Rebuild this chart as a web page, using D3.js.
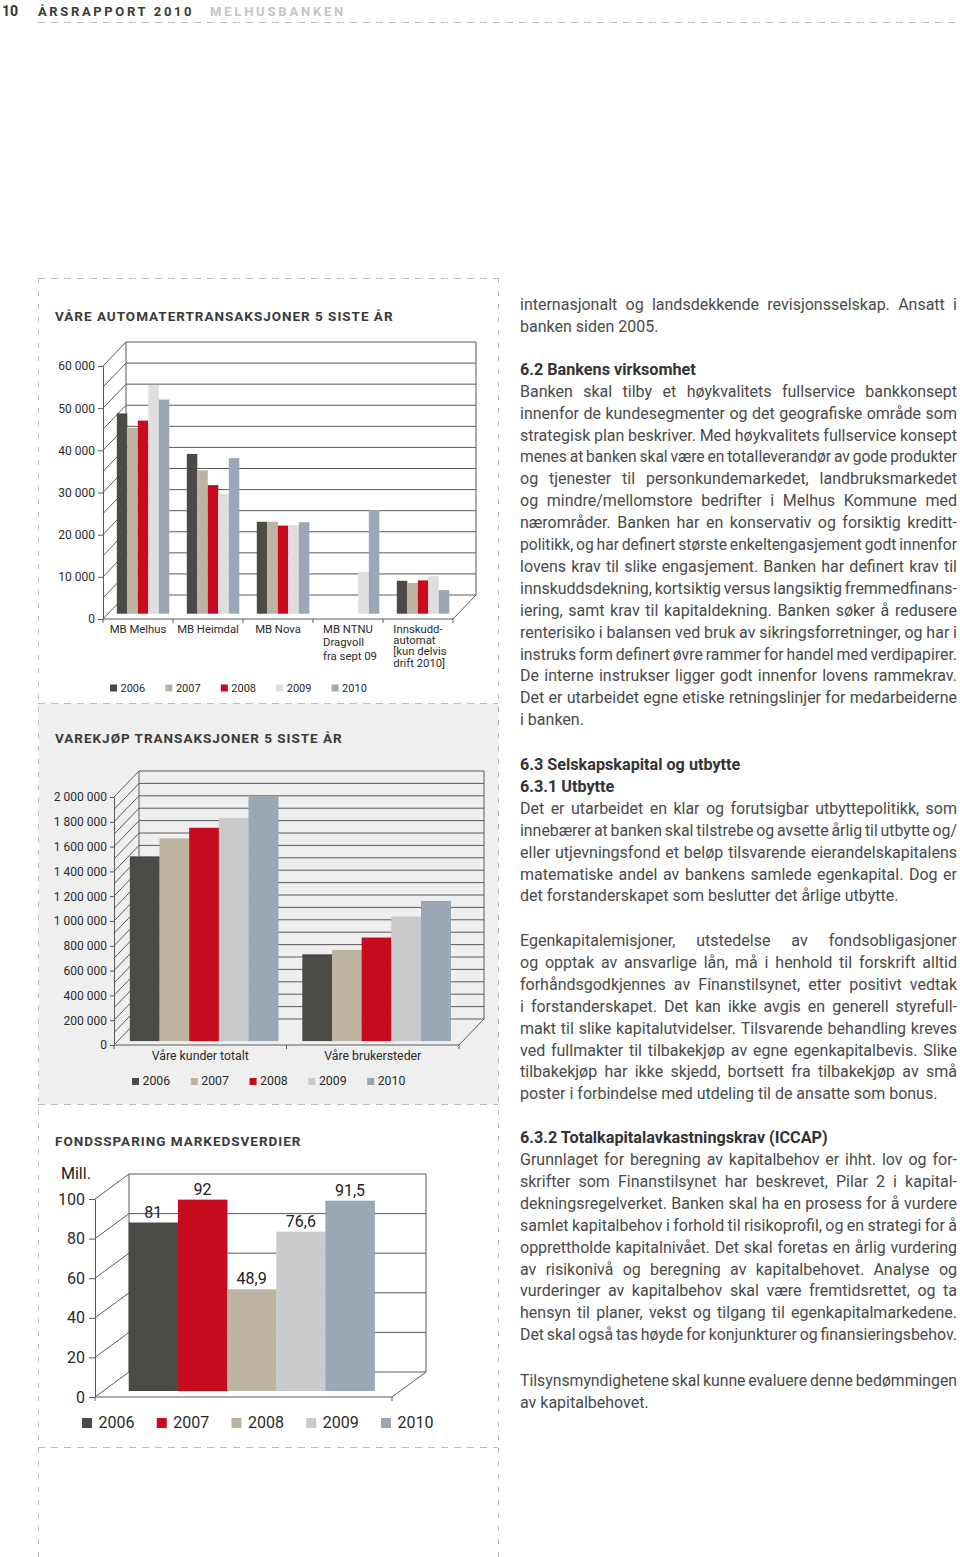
<!DOCTYPE html>
<html><head><meta charset="utf-8">
<script src="https://cdn.jsdelivr.net/npm/d3@7"></script>
<style>
body{margin:0;background:#fff;}
svg{display:block;}
</style>
</head><body>
<svg id="page" width="960" height="1557"></svg>
<script>
// ---------------- DATA ----------------
const years = ["2006", "2007", "2008", "2009", "2010"];

// Chart 1: Våre automatertransaksjoner 5 siste år
const atmCategories = ["MB Melhus", "MB Heimdal", "MB Nova", "MB NTNU", "Innskudd"];
const atmCategoryLabels = [["MB Melhus"], ["MB Heimdal"], ["MB Nova"], ["MB NTNU", "Dragvoll", "fra sept 09"], ["Innskudd-", "automat", "[kun delvis", "drift 2010]"]];
const atm2006 = [47500, 37900, 21800, null, 7800];
const atm2007 = [44100, 34000, 21800, null, 7300];
const atm2008 = [45800, 30500, 20900, null, 7900];
const atm2009 = [54200, 28400, 21000, 9900, 8900];
const atm2010 = [50800, 36900, 21700, 24600, 5600];
const atmTicks = [0, 10000, 20000, 30000, 40000, 50000, 60000];

// Chart 2: Varekjøp transaksjoner 5 siste år
const vkCategories = ["Våre kunder totalt", "Våre brukersteder"];
const vk2006 = [1490000, 700000];
const vk2007 = [1635000, 735000];
const vk2008 = [1720000, 835000];
const vk2009 = [1800000, 1005000];
const vk2010 = [1975000, 1130000];
const vkTicks = [0, 200000, 400000, 600000, 800000, 1000000, 1200000, 1400000, 1600000, 1800000, 2000000];

// Chart 3: Fondssparing markedsverdier (Mill.)
const fondValues = [81, 92, 48.9, 76.6, 91.5];
const fondLabels = ["81", "92", "48,9", "76,6", "91,5"];
const fondTicks = [0, 20, 40, 60, 80, 100];

// ---------------- STYLE ----------------
const FONT = "Roboto, 'Noto Sans', 'DejaVu Sans', sans-serif";
const C = {dark: "#4b4a46", beige: "#bdb3a1", red: "#c80a1e", light1: "#dedede", light2: "#c9cacc", blue: "#9aa7b4"};
const pal1 = [C.dark, C.beige, C.red, C.light1, C.blue];
const pal2 = [C.dark, C.beige, C.red, C.light2, C.blue];
const pal3 = [C.dark, C.red, C.beige, C.light2, C.blue];
const gridColor = "#5a5a5a";
const dashColor = "#bdbdbd";

const svg = d3.select("#page").attr("font-family", FONT);
const spaceFmt = v => d3.format(",")(v).replace(/,/g, " ");

// ---------------- PAGE FRAME ----------------
function dash(x1, y1, x2, y2, pattern) {
  svg.append("line").attr("x1", x1).attr("y1", y1).attr("x2", x2).attr("y2", y2)
    .attr("stroke", dashColor).attr("stroke-width", 1).attr("stroke-dasharray", pattern);
}
// chart 2 grey panel
svg.append("rect").attr("x", 38.5).attr("y", 703.5).attr("width", 460).attr("height", 400.5).attr("fill", "#efefef");

dash(38, 22.5, 960, 22.5, "7,6");
dash(38, 278.5, 498, 278.5, "7,6");
dash(38, 703.5, 498, 703.5, "7,6");
dash(38, 1104.5, 498, 1104.5, "7,6");
dash(38, 1447.5, 498, 1447.5, "7,6");
dash(38.5, 278, 38.5, 1557, "5,8");
dash(498.5, 278, 498.5, 1557, "5,8");

// header
svg.append("text").attr("x", 2).attr("y", 16).attr("font-size", 14).attr("font-weight", 700).attr("fill", "#333").text("10");
svg.append("text").attr("x", 38).attr("y", 16).attr("font-size", 13).attr("font-weight", 700).attr("letter-spacing", 2.64).attr("fill", "#3a3a3a").text("ÅRSRAPPORT 2010");
svg.append("text").attr("x", 210).attr("y", 16).attr("font-size", 13).attr("font-weight", 700).attr("letter-spacing", 2.8).attr("fill", "#c4c4c4").text("MELHUSBANKEN");

// chart titles
function title(x, y, str) {
  svg.append("text").attr("x", x).attr("y", y).attr("font-size", 13.5).attr("font-weight", 700)
    .attr("letter-spacing", 0.98).attr("fill", "#3a3a3a").text(str);
}
title(55, 321, "VÅRE AUTOMATERTRANSAKSJONER 5 SISTE ÅR");
title(55, 743, "VAREKJØP TRANSAKSJONER 5 SISTE ÅR");
title(55, 1146, "FONDSSPARING MARKEDSVERDIER");

// ---------------- 3D FRAME HELPER ----------------
function frame3D(g, o) {
  const {yF, x0, x1, dx, dy, grid, ticks, fmt, fontSize, tickSize, tickPad, maxV} = o;
  const ln = (a, b, c, d) => g.append("line").attr("x1", a).attr("y1", b).attr("x2", c).attr("y2", d)
    .attr("stroke", gridColor).attr("stroke-width", 1);
  g.append("g").selectAll("line").data(grid).join("line")
    .attr("x1", x0 + dx).attr("x2", x1 + dx)
    .attr("y1", d => yF(d) + dy).attr("y2", d => yF(d) + dy)
    .attr("stroke", gridColor).attr("stroke-width", 1);
  g.append("g").selectAll("line").data(grid).join("line")
    .attr("x1", x0).attr("y1", d => yF(d))
    .attr("x2", x0 + dx).attr("y2", d => yF(d) + dy)
    .attr("stroke", gridColor).attr("stroke-width", 1);
  ln(x0 + dx, yF(maxV) + dy, x0 + dx, yF(0) + dy);
  ln(x1 + dx, yF(maxV) + dy, x1 + dx, yF(0) + dy);
  ln(x0, yF(0), x1, yF(0));
  ln(x1, yF(0), x1 + dx, yF(0) + dy);
  const ax = g.append("g").attr("transform", `translate(${x0},0)`)
    .call(d3.axisLeft(yF).tickValues(ticks).tickFormat(fmt).tickSize(tickSize).tickSizeOuter(0).tickPadding(tickPad));
  ax.attr("font-family", FONT).attr("font-size", fontSize);
  ax.select(".domain").attr("stroke", gridColor);
  ax.selectAll(".tick line").attr("stroke", gridColor);
  ax.selectAll(".tick text").attr("fill", "#2a2a2a");
}

function catTicks(g, xs, y) {
  g.append("g").selectAll("line").data(xs).join("line")
    .attr("x1", d => d).attr("x2", d => d).attr("y1", y).attr("y2", y + 4)
    .attr("stroke", gridColor).attr("stroke-width", 1);
}

function legend(g, palette, x0, step, y, size, textOff, fontSize) {
  const it = g.append("g").selectAll("g").data(years).join("g")
    .attr("transform", (d, i) => `translate(${x0 + i * step},${y})`);
  it.append("rect").attr("x", 0).attr("y", -size).attr("width", size).attr("height", size)
    .attr("fill", (d, i) => palette[i]);
  it.append("text").attr("x", textOff).attr("y", 0).attr("font-size", fontSize).attr("fill", "#2a2a2a").text(d => d);
}

// ---------------- CHART 1 ----------------
{
  const g = svg.append("g");
  const yF = d3.scaleLinear().domain([0, 60000]).range([619, 366]);
  const x = d3.scaleBand().domain(atmCategories).range([103, 453]);
  const dx = 23, dy = -24, f = 0.22;
  frame3D(g, {yF, x0: 103, x1: 453, dx, dy, grid: d3.range(0, 60001, 5000), ticks: atmTicks,
    fmt: spaceFmt, fontSize: 12, tickSize: 5, tickPad: 3, maxV: 60000});
  const bw = x.bandwidth();
  const xi = d3.scaleBand().domain(years).range([bw * 0.125, bw * 0.875]);
  const series = [atm2006, atm2007, atm2008, atm2009, atm2010];
  const bars = [];
  series.forEach((s, yi) => s.forEach((v, ci) => { if (v != null) bars.push({c: atmCategories[ci], y: years[yi], yi, v}); }));
  g.append("g").selectAll("rect").data(bars).join("rect")
    .attr("x", d => x(d.c) + xi(d.y) + dx * f)
    .attr("y", d => yF(d.v) + dy * f)
    .attr("width", xi.bandwidth())
    .attr("height", d => yF(0) - yF(d.v))
    .attr("fill", d => pal1[d.yi]);
  catTicks(g, [...atmCategories.map(c => x(c)), 453], 619);
  atmCategories.forEach((c, i) => {
    const lines = atmCategoryLabels[i];
    const cx = x(c) + bw / 2;
    const t = g.append("text").attr("font-size", 11.3).attr("fill", "#2a2a2a");
    if (lines.length === 1) {
      t.attr("x", cx).attr("y", 633).attr("text-anchor", "middle").text(lines[0]);
    } else {
      const lh = lines.length === 3 ? 13.4 : 11.2;
      lines.forEach((l, k) => t.append("tspan").attr("x", 0).attr("y", 633 + k * lh).text(l));
      const w = t.node().getBBox().width;
      t.selectAll("tspan").attr("x", cx - w / 2 + 2);
    }
  });
  legend(g, pal1, 110, 55.4, 691.5, 7, 10.5, 11);
}

// ---------------- CHART 2 ----------------
{
  const g = svg.append("g");
  const yF = d3.scaleLinear().domain([0, 2000000]).range([1045, 797]);
  const x = d3.scaleBand().domain(vkCategories).range([114, 459]);
  const dx = 25, dy = -26, f = 0.15;
  frame3D(g, {yF, x0: 114, x1: 459, dx, dy, grid: d3.range(0, 2000001, 100000), ticks: vkTicks,
    fmt: spaceFmt, fontSize: 12, tickSize: 4, tickPad: 3, maxV: 2000000});
  const bw = x.bandwidth();
  const xi = d3.scaleBand().domain(years).range([bw * 0.07, bw * 0.93]);
  const series = [vk2006, vk2007, vk2008, vk2009, vk2010];
  const bars = [];
  series.forEach((s, yi) => s.forEach((v, ci) => bars.push({c: vkCategories[ci], y: years[yi], yi, v})));
  g.append("g").selectAll("rect").data(bars).join("rect")
    .attr("x", d => x(d.c) + xi(d.y) + dx * f)
    .attr("y", d => yF(d.v) + dy * f)
    .attr("width", xi.bandwidth() + 0.3)
    .attr("height", d => yF(0) - yF(d.v))
    .attr("fill", d => pal2[d.yi]);
  catTicks(g, [...vkCategories.map(c => x(c)), 459], 1045);
  g.append("g").selectAll("text").data(vkCategories).join("text")
    .attr("x", d => x(d) + bw / 2).attr("y", 1060).attr("text-anchor", "middle")
    .attr("font-size", 12.3).attr("fill", "#2a2a2a").text(d => d);
  legend(g, pal2, 132, 58.8, 1085, 7, 10.5, 12.3);
}

// ---------------- CHART 3 ----------------
{
  const g = svg.append("g");
  const yF = d3.scaleLinear().domain([0, 100]).range([1397, 1199]);
  const yBar = d3.scaleLinear().domain([0, 100]).range([1391, 1183]); // bar plane
  const x = d3.scaleBand().domain(years).range([95, 392]).paddingOuter(0.52).paddingInner(0);
  const dx = 34, dy = -25, f = 0.24;
  frame3D(g, {yF, x0: 95, x1: 392, dx, dy, grid: fondTicks, ticks: fondTicks,
    fmt: d => d, fontSize: 16, tickSize: 6, tickPad: 4, maxV: 100});
  g.append("g").selectAll("rect").data(fondValues).join("rect")
    .attr("x", (d, i) => x(years[i]) + dx * f)
    .attr("y", d => yBar(d))
    .attr("width", x.bandwidth() + 0.3)
    .attr("height", d => yBar(0) - yBar(d))
    .attr("fill", (d, i) => pal3[i]);
  g.append("g").selectAll("text").data(fondValues).join("text")
    .attr("x", (d, i) => x(years[i]) + dx * f + x.bandwidth() / 2)
    .attr("y", d => yBar(d) - 5)
    .attr("text-anchor", "middle").attr("font-size", 16).attr("fill", "#222")
    .text((d, i) => fondLabels[i]);
  catTicks(g, [95, 392], 1397);
  g.append("text").attr("x", 61).attr("y", 1179).attr("font-size", 16).attr("fill", "#222").text("Mill.");
  legend(g, pal3, 82, 74.75, 1428, 10, 16.5, 16);
}

// ---------------- TEXT COLUMN ----------------
const TX = 520, TW = 437, LH = 21.9, FS = 16;
const body = svg.append("g").attr("font-size", FS).attr("fill", "#4a4a4a");
const meas = svg.append("text").attr("font-size", FS).attr("visibility", "hidden");
function wordW(w) { return meas.text(w).node().getComputedTextLength(); }
function line(str, y, justify) {
  const t = body.append("text").attr("y", y);
  const words = str.split(" ");
  const widths = words.map(wordW);
  const total = d3.sum(widths);
  const natural = meas.text(str).node().getComputedTextLength();
  if (!justify || words.length < 2) {
    t.attr("x", TX).text(str);
    if (natural > TW) t.attr("textLength", TW).attr("lengthAdjust", "spacingAndGlyphs");
    return;
  }
  let gap = (TW - total) / (words.length - 1);
  let k = 1;
  if (gap < 2.8) { k = (TW - 2.8 * (words.length - 1)) / total; gap = 2.8; }
  let cx = TX;
  words.forEach((w, i) => {
    const ts = t.append("tspan").attr("x", cx).text(w);
    if (k < 1) ts.attr("textLength", widths[i] * k).attr("lengthAdjust", "spacingAndGlyphs");
    cx += widths[i] * k + gap;
  });
}
function para(lines, y0, lastJustify) {
  lines.forEach((l, i) => line(l, y0 + i * LH, i < lines.length - 1 || lastJustify));
}
function heading(str, y) {
  svg.append("text").attr("x", TX).attr("y", y).attr("font-size", 16.2).attr("font-weight", 700)
    .attr("fill", "#333").text(str);
}

para(["internasjonalt og landsdekkende revisjonsselskap. Ansatt i",
      "banken siden 2005."], 310, false);
heading("6.2 Bankens virksomhet", 375);
para(["Banken skal tilby et høykvalitets fullservice bankkonsept",
      "innenfor de kundesegmenter og det geografiske område som",
      "strategisk plan beskriver. Med høykvalitets fullservice konsept",
      "menes at banken skal være en totalleverandør av gode produkter",
      "og tjenester til personkundemarkedet, landbruksmarkedet",
      "og mindre/mellomstore bedrifter i Melhus Kommune med",
      "nærområder. Banken har en konservativ og forsiktig kreditt-",
      "politikk, og har definert største enkeltengasjement godt innenfor",
      "lovens krav til slike engasjement. Banken har definert krav til",
      "innskuddsdekning, kortsiktig versus langsiktig fremmedfinans-",
      "iering, samt krav til kapitaldekning. Banken søker å redusere",
      "renterisiko i balansen ved bruk av sikringsforretninger, og har i",
      "instruks form definert øvre rammer for handel med verdipapirer.",
      "De interne instrukser ligger godt innenfor lovens rammekrav.",
      "Det er utarbeidet egne etiske retningslinjer for medarbeiderne",
      "i banken."], 396.7, false);
heading("6.3 Selskapskapital og utbytte", 770);
heading("6.3.1 Utbytte", 791.8);
para(["Det er utarbeidet en klar og forutsigbar utbyttepolitikk, som",
      "innebærer at banken skal tilstrebe og avsette årlig til utbytte og/",
      "eller utjevningsfond et beløp tilsvarende eierandelskapitalens",
      "matematiske andel av bankens samlede egenkapital. Dog er",
      "det forstanderskapet som beslutter det årlige utbytte."], 813.8, false);
para(["Egenkapitalemisjoner, utstedelse av fondsobligasjoner",
      "og opptak av ansvarlige lån, må i henhold til forskrift alltid",
      "forhåndsgodkjennes av Finanstilsynet, etter positivt vedtak",
      "i forstanderskapet. Det kan ikke avgis en generell styrefull-",
      "makt til slike kapitalutvidelser. Tilsvarende behandling kreves",
      "ved fullmakter til tilbakekjøp av egne egenkapitalbevis. Slike",
      "tilbakekjøp har ikke skjedd, bortsett fra tilbakekjøp av små",
      "poster i forbindelse med utdeling til de ansatte som bonus."], 946, false);
heading("6.3.2 Totalkapitalavkastningskrav (ICCAP)", 1143.3);
para(["Grunnlaget for beregning av kapitalbehov er ihht. lov og for-",
      "skrifter som Finanstilsynet har beskrevet, Pilar 2 i kapital-",
      "dekningsregelverket. Banken skal ha en prosess for å vurdere",
      "samlet kapitalbehov i forhold til risikoprofil, og en strategi for å",
      "opprettholde kapitalnivået. Det skal foretas en årlig vurdering",
      "av risikonivå og beregning av kapitalbehovet. Analyse og",
      "vurderinger av kapitalbehov skal være fremtidsrettet, og ta",
      "hensyn til planer, vekst og tilgang til egenkapitalmarkedene.",
      "Det skal også tas høyde for konjunkturer og finansieringsbehov."], 1165, true);
para(["Tilsynsmyndighetene skal kunne evaluere denne bedømmingen",
      "av kapitalbehovet."], 1385.7, false);
meas.remove();
</script>
</body></html>
